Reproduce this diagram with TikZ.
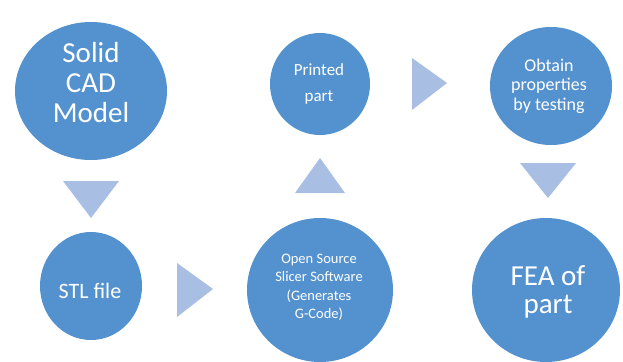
\documentclass[tikz,border=0pt]{standalone}
\usepackage{fontspec}
\setmainfont{Carlito}
\usetikzlibrary{shapes.geometric}
\definecolor{cblue}{RGB}{84,146,207}
\definecolor{tblue}{RGB}{168,190,226}
\begin{document}
\begin{tikzpicture}[x=1pt,y=-1pt,
  stage/.style={ellipse, fill=cblue, draw=none, inner sep=0pt},
  stagetext/.style={text=white, align=center, inner sep=0pt},
  chevron/.style={fill=tblue, draw=none}]
\useasboundingbox (0,0) rectangle (623,361);
\fill[white] (0,0) rectangle (623,361);
% stages
\node[stage, minimum width=152pt, minimum height=138pt] (cad) at (91,91) {};
\node[stage, minimum width=102pt, minimum height=108pt] (stl) at (91,286) {};
\node[stage, minimum width=146pt, minimum height=144pt] (slicer) at (320,290) {};
\node[stage, minimum width=100pt, minimum height=102pt] (printed) at (320,84) {};
\node[stage, minimum width=122pt, minimum height=118pt] (obtain) at (551,86) {};
\node[stage, minimum width=148pt, minimum height=144pt] (fea) at (546,290) {};
% texts
\node[stagetext, font=\fontsize{29}{30}\selectfont] (cadt) at (91,83) {Solid\\CAD\\Model};
\node[stagetext, font=\fontsize{22}{26}\selectfont] (stlt) at (90,291) {STL file};
\node[stagetext, font=\fontsize{17}{26}\selectfont] (printedt) at (319,84) {Printed\\part};
\node[stagetext, font=\fontsize{18}{19.5}\selectfont] (obtaint) at (549,86) {Obtain\\properties\\by testing};
\node[stagetext, font=\fontsize{14.5}{18.5}\selectfont] (slicert) at (319,287.5) {Open Source\\Slicer Software\\(Generates\\G-Code)};
\node[stagetext, font=\fontsize{29}{28}\selectfont] (feat) at (548,292) {FEA of\\part};
% chevrons
\fill[chevron] (63,181) -- (119,181) -- (91,218) -- cycle;
\fill[chevron] (177,263) -- (213,289) -- (177,317) -- cycle;
\fill[chevron] (295,193) -- (345,193) -- (320,158) -- cycle;
\fill[chevron] (412,58) -- (447,83) -- (412,110) -- cycle;
\fill[chevron] (520,163) -- (576,163) -- (548,198) -- cycle;
\end{tikzpicture}
\end{document}
